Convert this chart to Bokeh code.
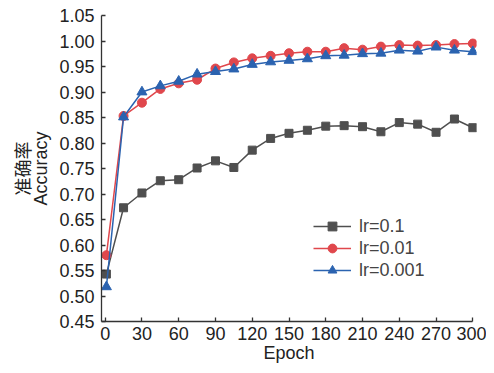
from bokeh.plotting import figure
from bokeh.models import Range1d, FixedTicker, Legend, PrintfTickFormatter
from bokeh.embed import file_html
from bokeh.resources import INLINE

epochs = [1, 15, 30, 45, 60, 75, 90, 105, 120, 135, 150, 165, 180, 195, 210, 225, 240, 255, 270, 285, 300]
acc_lr01 = [0.543, 0.673, 0.702, 0.726, 0.728, 0.751, 0.765, 0.752, 0.786, 0.809, 0.819, 0.825, 0.833,
            0.834, 0.832, 0.822, 0.840, 0.837, 0.821, 0.847, 0.830]
acc_lr001 = [0.580, 0.853, 0.879, 0.906, 0.917, 0.924, 0.946, 0.958, 0.966, 0.971, 0.976, 0.979, 0.979,
             0.986, 0.983, 0.989, 0.992, 0.991, 0.992, 0.994, 0.995]
acc_lr0001 = [0.518, 0.851, 0.900, 0.912, 0.921, 0.935, 0.940, 0.945, 0.954, 0.959, 0.962, 0.965, 0.971,
              0.972, 0.975, 0.976, 0.982, 0.980, 0.988, 0.982, 0.979]
labels = ["lr=0.1", "lr=0.01", "lr=0.001"]
x_ticks = [0, 30, 60, 90, 120, 150, 180, 210, 240, 270, 300]
y_ticks = [0.45, 0.50, 0.55, 0.60, 0.65, 0.70, 0.75, 0.80, 0.85, 0.90, 0.95, 1.00, 1.05]

FONT = "Liberation Sans"
p = figure(width=486, height=365, output_backend="svg", toolbar_location=None,
           x_range=Range1d(-3, 303), y_range=Range1d(0.45, 1.05),
           min_border_left=101, min_border_right=10, min_border_top=15, min_border_bottom=0)
p.outline_line_color = None
p.xgrid.visible = False
p.ygrid.visible = False

gray, red, blue = "#4f4f4f", "#e0474c", "#2b63b0"
series = [(acc_lr01, gray, "square", 8), (acc_lr001, red, "circle", 9), (acc_lr0001, blue, "triangle", 10)]
items = []
for (vals, col, mk, sz), lab in zip(series, labels):
    l = p.line(epochs, vals, line_color=col, line_width=1.5)
    s = p.scatter(epochs, vals, marker=mk, size=sz, fill_color=col, line_color=col)
    items.append((lab, [l, s]))

leg = Legend(items=items, location=(212, 40), border_line_color=None, background_fill_alpha=0,
             label_text_font=FONT, label_text_font_size="18px", label_height=22, glyph_height=22,
             glyph_width=38, spacing=0, padding=0, margin=0, label_standoff=8)
p.add_layout(leg, "center")

for ax in (p.xaxis[0], p.yaxis[0]):
    ax.major_tick_in = 4
    ax.major_tick_out = 0
    ax.minor_tick_line_color = None
    ax.axis_line_width = 1.3
    ax.major_tick_line_width = 1.3
    ax.axis_line_color = "#333333"
    ax.major_tick_line_color = "#333333"
    ax.major_label_text_font = FONT
    ax.major_label_text_font_size = "18px"
    ax.major_label_text_color = "#222222"
    ax.axis_label_text_font = FONT
    ax.axis_label_text_font_size = "18px"
    ax.axis_label_text_font_style = "normal"
    ax.axis_label_text_color = "#222222"

p.xaxis[0].ticker = FixedTicker(ticks=x_ticks)
p.xaxis[0].bounds = (-3, 300)
p.xaxis[0].axis_label = "Epoch"
p.xaxis[0].major_label_standoff = 5
p.xaxis[0].axis_label_standoff = 0
p.yaxis[0].ticker = FixedTicker(ticks=y_ticks)
p.yaxis[0].formatter = PrintfTickFormatter(format="%.2f")
p.yaxis[0].axis_label = "准确率\nAccuracy"
p.yaxis[0].axis_label_text_font = "'Liberation Sans', 'Noto Sans CJK SC'"
p.yaxis[0].axis_label_text_line_height = 0.88
p.yaxis[0].major_label_standoff = 7
p.yaxis[0].axis_label_standoff = 5

open("out.html", "w").write(file_html(p, INLINE))
